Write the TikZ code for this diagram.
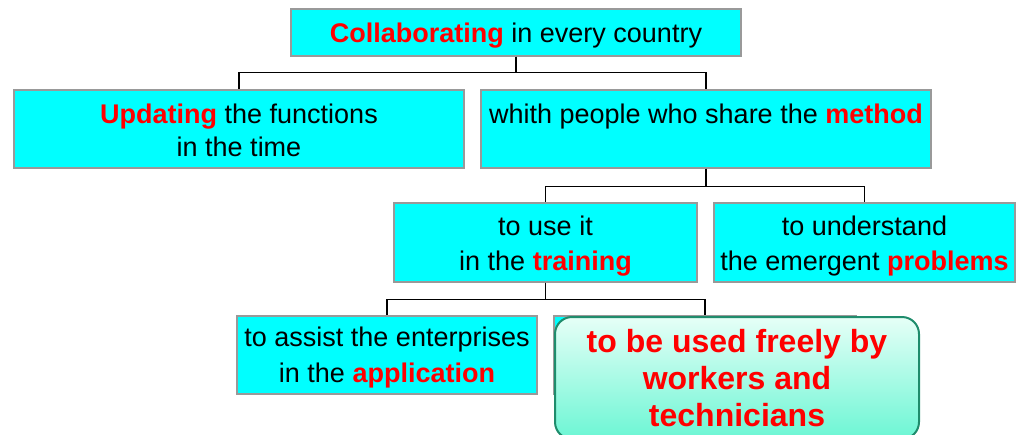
\documentclass[tikz,border=0pt]{standalone}
\usepackage{fontspec}
\setmainfont{Liberation Sans}
\definecolor{boxcyan}{HTML}{00FFFF}
\definecolor{boxgray}{HTML}{999999}
\definecolor{hlred}{HTML}{FF0000}
\definecolor{rbord}{HTML}{1F8C6C}
\definecolor{rtop}{HTML}{E6FFF7}
\definecolor{rbot}{HTML}{6CF6D4}
\newcommand{\hl}[1]{\textbf{\textcolor{hlred}{#1}}}
\begin{document}
\begin{tikzpicture}[x=1pt,y=-1pt,
  cbox/.style={draw=boxgray,line width=1.2pt,fill=boxcyan,inner sep=0pt},
  ctext/.style={inner sep=0pt,align=center,font=\fontsize{27}{33}\selectfont},
  conn/.style={draw=black,line width=1.4pt},
  rbox/.style={draw=rbord,line width=2pt,rounded corners=17pt,top color=rtop,bottom color=rbot,
    inner sep=0pt,align=center,text=hlred,font=\bfseries\fontsize{32}{37}\selectfont}]
\useasboundingbox (0,0) rectangle (1016,434);
\node[cbox,minimum width=450pt,minimum height=47pt] (top) at (516,32.5) {};
\node[cbox,minimum width=450pt,minimum height=78pt] (upd) at (239,129) {};
\node[cbox,minimum width=450pt,minimum height=78pt] (whi) at (706,129) {};
\node[cbox,minimum width=303pt,minimum height=79pt] (use) at (545.5,242.5) {};
\node[cbox,minimum width=301pt,minimum height=79pt] (und) at (864.5,242.5) {};
\node[cbox,minimum width=300pt,minimum height=78pt] (ass) at (387,355) {};
\node[cbox,minimum width=302pt,minimum height=78pt] (hid) at (705,355) {};
\node[ctext] (topt) at ([yshift=-3pt]top.center) {\hl{Collaborating} in every country};
\node[ctext] (updt) at ([yshift=-1pt]upd.center) {\hl{Updating} the functions\\in the time};
\node[ctext] (whit) at ([yshift=-1pt]whi.center) {whith people who share the \hl{method}\\\phantom{in the time}};
\node[ctext] (uset) at ([yshift=-3.5pt]use.center) {to use it\\[2pt]in the \hl{training}};
\node[ctext] (undt) at ([yshift=-3.5pt]und.center) {to understand\\[2pt]the emergent \hl{problems}};
\node[ctext] (asst) at ([yshift=-2.5pt]ass.center) {to assist the enterprises\\[3pt]in the \hl{application}};
\node[rbox,minimum width=364pt,minimum height=122pt] (free) at (737,378) {to be used freely by\\workers and\\technicians};
\draw[conn] (top.south) -- ++(0,16) -| (upd.north);
\draw[conn] (top.south) -- ++(0,16) -| (whi.north);
\draw[conn] (whi.south) -- ++(0,18) -| (use.north);
\draw[conn] (whi.south) -- ++(0,18) -| (und.north);
\draw[conn] (use.south) -- ++(0,17) -| (ass.north);
\draw[conn] (use.south) -- ++(0,17) -| (hid.north);
\end{tikzpicture}
\end{document}
